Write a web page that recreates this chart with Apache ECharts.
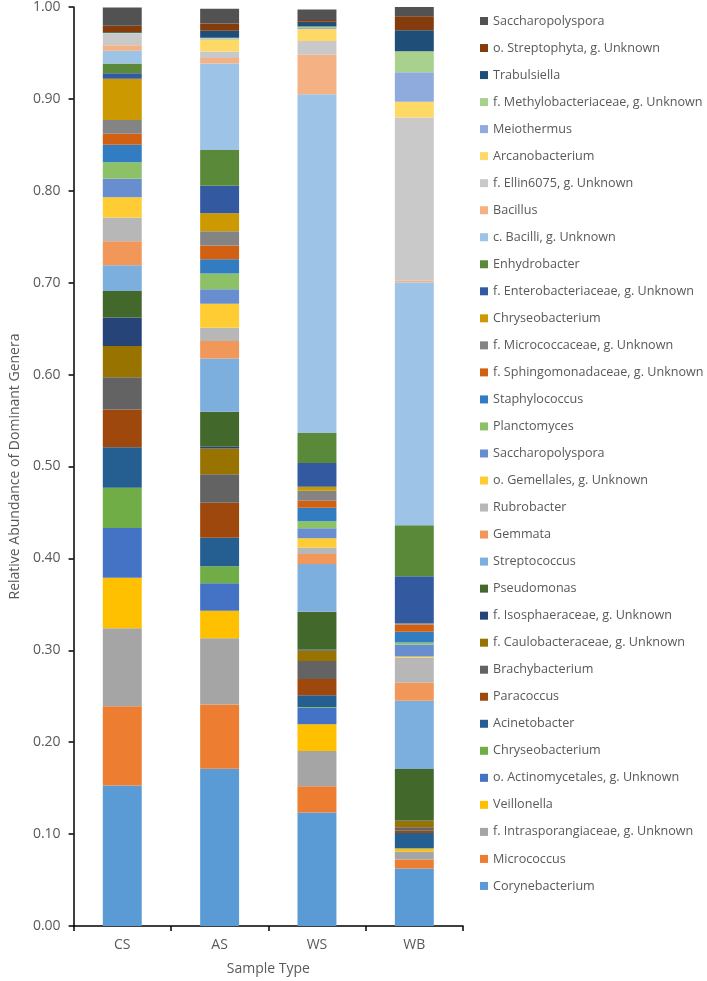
<!DOCTYPE html>
<html>
<head>
<meta charset="utf-8">
<script src="https://cdn.jsdelivr.net/npm/echarts@6/dist/echarts.min.js"></script>
<style>
html,body{margin:0;padding:0;background:#fff;}
#chart{width:707px;height:981px;}
</style>
</head>
<body>
<div id="chart"></div>
<script>
// Categories (x axis)
var categories = ['CS', 'AS', 'WS', 'WB'];

// Genera, bottom of stack to top
var genera = [
  'Corynebacterium',
  'Micrococcus',
  'f. Intrasporangiaceae, g. Unknown',
  'Veillonella',
  'o. Actinomycetales, g. Unknown',
  'Chryseobacterium',
  'Acinetobacter',
  'Paracoccus',
  'Brachybacterium',
  'f. Caulobacteraceae, g. Unknown',
  'f. Isosphaeraceae, g. Unknown',
  'Pseudomonas',
  'Streptococcus',
  'Gemmata',
  'Rubrobacter',
  'o. Gemellales, g. Unknown',
  'Saccharopolyspora',
  'Planctomyces',
  'Staphylococcus',
  'f. Sphingomonadaceae, g. Unknown',
  'f. Micrococcaceae, g. Unknown',
  'Chryseobacterium ',
  'f. Enterobacteriaceae, g. Unknown',
  'Enhydrobacter',
  'c. Bacilli, g. Unknown',
  'Bacillus',
  'f. Ellin6075, g. Unknown',
  'Arcanobacterium',
  'Meiothermus',
  'f. Methylobacteriaceae, g. Unknown',
  'Trabulsiella',
  'o. Streptophyta, g. Unknown',
  'Saccharopolyspora '
];

// Relative abundance per sample type, same order as genera
var valuesCS = [0.153, 0.086, 0.085, 0.055, 0.054, 0.044, 0.044, 0.041, 0.035, 0.034, 0.031, 0.029, 0.028, 0.026, 0.026, 0.022, 0.020, 0.018, 0.019, 0.012, 0.015, 0.045, 0.006, 0.0105, 0.014, 0.006, 0.012, 0.0005, 0.0003, 0.0005, 0.0007, 0.007, 0.020];
var valuesAS = [0.171, 0.070, 0.072, 0.030, 0.030, 0.0185, 0.031, 0.038, 0.031, 0.028, 0.002, 0.038, 0.058, 0.019, 0.0145, 0.026, 0.016, 0.017, 0.0155, 0.015, 0.0155, 0.0195, 0.030, 0.039, 0.094, 0.006, 0.007, 0.013, 0.001, 0.001, 0.0076, 0.008, 0.016];
var valuesWS = [0.1234, 0.0286, 0.0384, 0.029, 0.018, 0.001, 0.0127, 0.0177, 0.0195, 0.0116, 0.001, 0.041, 0.052, 0.011, 0.007, 0.010, 0.011, 0.0076, 0.0145, 0.0076, 0.011, 0.0043, 0.026, 0.0326, 0.3686, 0.043, 0.015, 0.013, 0.001, 0.0018, 0.005, 0.002, 0.0115];
var valuesWB = [0.0626, 0.0098, 0.0087, 0.003, 0.0005, 0.0003, 0.0163, 0.0025, 0.0037, 0.0072, 0.0005, 0.0558, 0.0742, 0.0196, 0.0272, 0.0014, 0.013, 0.0022, 0.0116, 0.008, 0.0005, 0.0005, 0.0515, 0.0554, 0.2643, 0.0018, 0.1777, 0.017, 0.0323, 0.0228, 0.0228, 0.0152, 0.0126];

// Y axis ticks
var yMin = 0, yMax = 1, yStep = 0.1;

// Series colours (same order as genera)
var colors = [
  '#5B9BD5', '#ED7D31', '#A5A5A5', '#FFC000', '#4472C4', '#70AD47',
  '#255E91', '#9E480E', '#636363', '#997300', '#264478', '#43682B',
  '#7CAFDD', '#F1975A', '#B7B7B7', '#FFCD33', '#698ED0', '#8CC168',
  '#327DC2', '#D26012', '#848484', '#CC9A00', '#335AA1', '#5A8A39',
  '#9DC3E6', '#F4B183', '#C9C9C9', '#FFD966', '#8FAADC', '#A9D18E',
  '#1F4E79', '#843C0C', '#525252'
];

var valueTable = [valuesCS, valuesAS, valuesWS, valuesWB];

var series = genera.map(function (name, i) {
  return {
    name: name,
    type: 'bar',
    stack: 'total',
    barWidth: '40%',
    itemStyle: { color: colors[i] },
    emphasis: { disabled: true },
    data: valueTable.map(function (vals) { return vals[i]; })
  };
});

var FONT = 'Open Sans';
var chart = echarts.init(document.getElementById('chart'), null, { renderer: 'canvas' });
chart.setOption({
  animation: false,
  backgroundColor: '#ffffff',
  textStyle: { fontFamily: FONT },
  grid: { left: 61, top: 7, right: 244, bottom: 54, containLabel: false },
  legend: {
    orient: 'vertical',
    left: 480,
    top: 13,
    padding: 0,
    itemWidth: 8,
    itemHeight: 8,
    itemGap: 11.03,
    icon: 'rect',
    selectedMode: false,
    textStyle: { fontFamily: FONT, fontSize: 12.6, color: '#595959', lineHeight: 16 },
    data: genera.slice().reverse()
  },
  xAxis: {
    type: 'category',
    data: categories,
    name: 'Sample Type',
    nameLocation: 'middle',
    nameGap: 36,
    nameTextStyle: { fontFamily: FONT, fontSize: 14, color: '#595959' },
    axisLine: { lineStyle: { color: '#000000', width: 1.5 } },
    axisTick: { show: true, length: 5, lineStyle: { color: '#000000', width: 1.5 } },
    axisLabel: { fontFamily: FONT, fontSize: 14, color: '#595959', margin: 12 },
    splitLine: { show: false }
  },
  yAxis: {
    type: 'value',
    min: yMin,
    max: yMax,
    interval: yStep,
    name: 'Relative Abundance of Dominant Genera',
    nameLocation: 'middle',
    nameGap: 46,
    nameTextStyle: { fontFamily: FONT, fontSize: 14, color: '#595959' },
    axisLine: { show: true, lineStyle: { color: '#000000', width: 1.5 } },
    axisTick: { show: true, length: 5, lineStyle: { color: '#000000', width: 1.5 } },
    axisLabel: {
      fontFamily: FONT, fontSize: 14, color: '#595959', margin: 13,
      formatter: function (v) { return v.toFixed(2); }
    },
    splitLine: { show: false }
  },
  series: series
});
</script>
</body>
</html>
